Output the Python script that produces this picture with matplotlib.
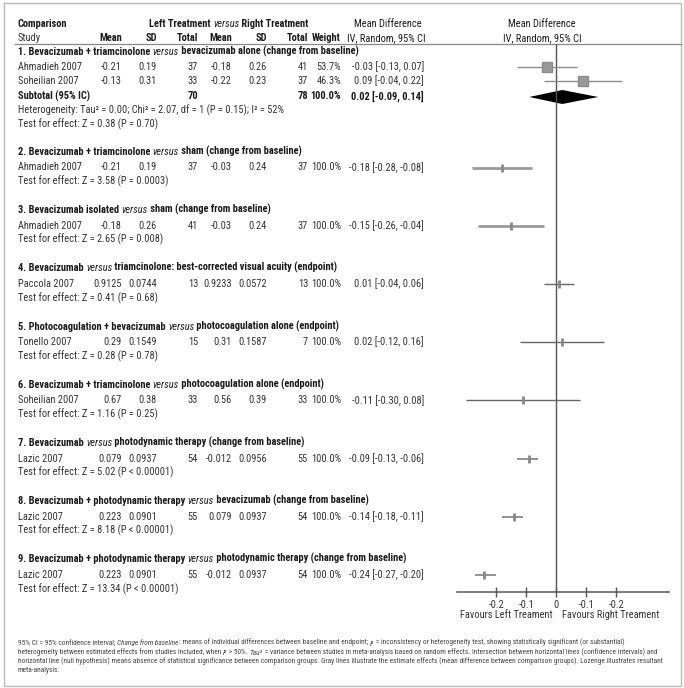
import matplotlib.pyplot as plt
from matplotlib import font_manager
import numpy as np

# pick a narrow sans if one is installed, otherwise Liberation Sans a bit smaller
installed = {f.name for f in font_manager.fontManager.ttflist}
FAMILY, FS, FOOT_FS = 'Liberation Sans', 6.9, 4.4
for cand in ['Liberation Sans Narrow', 'Arial Narrow', 'Roboto Condensed', 'Open Sans Condensed']:
    if cand in installed:
        FAMILY, FS, FOOT_FS = cand, 7.5, 5.3
        break
plt.rcParams['font.family'] = [FAMILY, 'DejaVu Sans']

# ---- data ----
section_titles = [
    ("1. Bevacizumab + triamcinolone ", " bevacizumab alone (change from baseline)"),
    ("2. Bevacizumab + triamcinolone ", " sham (change from baseline)"),
    ("3. Bevacizumab isolated ", " sham (change from baseline)"),
    ("4. Bevacizumab ", " triamcinolone: best-corrected visual acuity (endpoint)"),
    ("5. Photocoagulation + bevacizumab ", " photocoagulation alone (endpoint)"),
    ("6. Bevacizumab + triamcinolone ", " photocoagulation alone (endpoint)"),
    ("7. Bevacizumab ", " photodynamic therapy (change from baseline)"),
    ("8. Bevacizumab + photodynamic therapy ", " bevacizumab (change from baseline)"),
    ("9. Bevacizumab + photodynamic therapy ", " photodynamic therapy (change from baseline)"),
]
test_effect = ["Z = 0.38 (P = 0.70)", "Z = 3.58 (P = 0.0003)", "Z = 2.65 (P = 0.008)",
               "Z = 0.41 (P = 0.68)", "Z = 0.28 (P = 0.78)", "Z = 1.16 (P = 0.25)",
               "Z = 5.02 (P < 0.00001)", "Z = 8.18 (P < 0.00001)", "Z = 13.34 (P < 0.00001)"]

study_section = [0, 0, 1, 2, 3, 4, 5, 6, 7, 8]
study_names = ["Ahmadieh 2007", "Soheilian 2007", "Ahmadieh 2007", "Ahmadieh 2007", "Paccola 2007",
               "Tonello 2007", "Soheilian 2007", "Lazic 2007", "Lazic 2007", "Lazic 2007"]
left_mean = ["-0.21", "-0.13", "-0.21", "-0.18", "0.9125", "0.29", "0.67", "0.079", "0.223", "0.223"]
left_sd = ["0.19", "0.31", "0.19", "0.26", "0.0744", "0.1549", "0.38", "0.0937", "0.0901", "0.0901"]
left_total = [37, 33, 37, 41, 13, 15, 33, 54, 55, 55]
right_mean = ["-0.18", "-0.22", "-0.03", "-0.03", "0.9233", "0.31", "0.56", "-0.012", "0.079", "-0.012"]
right_sd = ["0.26", "0.23", "0.24", "0.24", "0.0572", "0.1587", "0.39", "0.0956", "0.0937", "0.0937"]
right_total = [41, 37, 37, 37, 13, 7, 33, 55, 54, 54]
weights = [53.7, 46.3, 100.0, 100.0, 100.0, 100.0, 100.0, 100.0, 100.0, 100.0]
md = [-0.03, 0.09, -0.18, -0.15, 0.01, 0.02, -0.11, -0.09, -0.14, -0.24]
md_lo = [-0.13, -0.04, -0.28, -0.26, -0.04, -0.12, -0.30, -0.13, -0.18, -0.27]
md_hi = [0.07, 0.22, -0.08, -0.04, 0.06, 0.16, 0.08, -0.06, -0.11, -0.20]

subtotal_md, subtotal_lo, subtotal_hi = 0.02, -0.09, 0.14
subtotal_n = (70, 78)
heterogeneity = "Heterogeneity: Tau² = 0.00; Chi² = 2.07, df = 1 (P = 0.15); I² = 52%"

tick_values = [-0.2, -0.1, 0, 0.1, 0.2]
tick_labels = ["-0.2", "-0.1", "0", "-0.1", "-0.2"]

footnote = [
    [("95% CI = 95% confidence interval; ", {}), ("Change from baseline", {'style': 'italic'}),
     (": means of individual differences between baseline and endpoint; ", {}), ("I²", {'style': 'italic'}),
     (" = inconsistency or heterogeneity test, showing statistically significant (or substantial)", {})],
    [("heterogeneity between estimated effects from studies included, when ", {}), ("I²", {'style': 'italic'}),
     (" > 50%. ", {}), ("Tau²", {'style': 'italic'}),
     (" = variance between studies in meta-analysis based on random effects. Intersection between horizontal lines (confidence intervals) and", {})],
    [("horizontal line (null hypothesis) means absence of statistical significance between comparison groups. Gray lines illustrate the estimate effects (mean difference between comparison groups). Lozenge illustrates resultant", {})],
    [("meta-analysis.", {})],
]

TXT = '#333333'
DARK = '#1a1a1a'


def rich(ax, x, y, parts, **kw):
    # chain text pieces so mixed styles sit on one line
    t = ax.text(x, y, parts[0][0], va='center', **{**kw, **parts[0][1]})
    for s, st in parts[1:]:
        t = ax.annotate(s, xy=(1, 0), xycoords=t, va='bottom', **{**kw, **st})
    return t


fig = plt.figure(figsize=(6.84, 6.88), dpi=100)
ax = fig.add_axes([0, 0, 1, 1])
ax.set_xlim(0, 684)
ax.set_ylim(688, 0)
ax.axis('off')

# frame and header rule
ax.plot([4, 681, 681, 4, 4], [3, 3, 686, 686, 3], color='#bbbbbb', lw=1)
ax.plot([15, 681], [44, 44], color='#888888', lw=0.9)

# header
col_right = [122, 157, 198, 232, 267, 308, 341]
ax.text(18, 24, "Comparison", fontsize=FS, color=DARK, weight='bold', va='center')
rich(ax, 149, 24, [("Left Treatment ", {}), ("versus", {'style': 'italic', 'weight': 'normal'}),
                   (" Right Treatment", {})], fontsize=FS, color=DARK, weight='bold')
ax.text(18, 38, "Study", fontsize=FS, color=TXT, va='center')
for xr, h in zip(col_right, ["Mean", "SD", "Total", "Mean", "SD", "Total", "Weight"]):
    ax.text(xr, 38, h, fontsize=FS, color=DARK, weight='bold', ha='right', va='center')
ax.text(388, 24, "Mean Difference", fontsize=FS, color=DARK, ha='center', va='center')
ax.text(386, 38, "IV, Random, 95% CI", fontsize=FS, color=DARK, ha='center', va='center')
ax.text(542, 24, "Mean Difference", fontsize=FS, color=DARK, ha='center', va='center')
ax.text(542, 38, "IV, Random, 95% CI", fontsize=FS, color=DARK, ha='center', va='center')

# vertical row positions (pixels)
title_y = [52] + [152 + 58.2 * k for k in range(8)]
study_y = [66.5, 81] + [t + 15.5 for t in title_y[1:]]
test_y = [124.5] + [t + 29.5 for t in title_y[1:]]
subtotal_y, het_y = 96, 110

for (a, b), ty in zip(section_titles, title_y):
    rich(ax, 18, ty, [(a, {'weight': 'bold'}), ("versus", {'style': 'italic'}), (b, {'weight': 'bold'})],
         fontsize=FS, color=DARK)
for ty, te in zip(test_y, test_effect):
    ax.text(18, ty, "Test for effect: " + te, fontsize=FS, color=TXT, va='center')

for i, name in enumerate(study_names):
    y = study_y[i]
    ax.text(18, y, name, fontsize=FS, color=TXT, va='center')
    vals = [left_mean[i], left_sd[i], str(left_total[i]), right_mean[i], right_sd[i],
            str(right_total[i]), f"{weights[i]:.1f}%"]
    for xr, v in zip(col_right, vals):
        ax.text(xr, y, v, fontsize=FS, color=TXT, ha='right', va='center')
    ax.text(424, y, f"{md[i]:.2f} [{md_lo[i]:.2f}, {md_hi[i]:.2f}]", fontsize=FS, color=TXT,
            ha='right', va='center')

# subtotal and heterogeneity rows
ax.text(18, subtotal_y, "Subtotal (95% IC)", fontsize=FS, color=DARK, weight='bold', va='center')
ax.text(col_right[2], subtotal_y, str(subtotal_n[0]), fontsize=FS, color=DARK, weight='bold', ha='right', va='center')
ax.text(col_right[5], subtotal_y, str(subtotal_n[1]), fontsize=FS, color=DARK, weight='bold', ha='right', va='center')
ax.text(col_right[6], subtotal_y, "100.0%", fontsize=FS, color=DARK, weight='bold', ha='right', va='center')
ax.text(424, subtotal_y, f"{subtotal_md:.2f} [{subtotal_lo:.2f}, {subtotal_hi:.2f}]", fontsize=FS,
        color=DARK, weight='bold', ha='right', va='center')
ax.text(18, het_y, heterogeneity, fontsize=FS, color=TXT, va='center')

# favours labels
ax.text(553, 615, "Favours Left Treament", fontsize=FS, color=TXT, ha='right', va='center')
ax.text(562, 615, "Favours Right Treament", fontsize=FS, color=TXT, ha='left', va='center')

# footnote
for k, parts in enumerate(footnote):
    rich(ax, 18, 643 + 9 * k, parts, fontsize=FOOT_FS, color='#444444')

# ---- forest plot ----
fx0, fx1, fy0, fy1 = 456.7, 669.3, 44, 592
fa = fig.add_axes([fx0 / 684, (688 - fy1) / 688, (fx1 - fx0) / 684, (fy1 - fy0) / 688])
fa.set_xlim(-0.332, 0.377)
fa.set_ylim(fy1, fy0)
fa.patch.set_alpha(0)
for s in ['top', 'left', 'right']:
    fa.spines[s].set_visible(False)
fa.spines['bottom'].set_color('#555555')
fa.spines['bottom'].set_linewidth(1.1)
fa.set_yticks([])
fa.set_xticks(tick_values)
fa.set_xticklabels(tick_labels, fontsize=FS, color=TXT)
fa.tick_params(axis='x', direction='inout', length=7, width=1, color='#555555', pad=2)
fa.axvline(0, color='#555555', lw=1)

line_color = ['#8c8c8c', '#8c8c8c', '#9a9a9a', '#9a9a9a', '#666666', '#666666', '#666666', '#8a8a8a', '#8a8a8a', '#8a8a8a']
line_width = [1.0, 1.0, 2.0, 2.0, 1.0, 1.0, 1.0, 1.3, 1.3, 1.3]
for i in range(len(md)):
    y = study_y[i]
    fa.plot([md_lo[i], md_hi[i]], [y, y], color=line_color[i], lw=line_width[i], solid_capstyle='butt')
    if study_section[i] == 0:
        # square sized by study weight
        fa.plot(md[i], y, marker='s', markersize=5.5 + 1.6 * weights[i] / 53.7,
                color='#999999', markeredgecolor='#8a8a8a')
    else:
        fa.plot(md[i], y, marker='|', markersize=6, markeredgewidth=2, color='#888888')

# pooled estimate lozenge
fa.fill([subtotal_lo, subtotal_md, subtotal_hi, subtotal_md],
        [subtotal_y + 1, subtotal_y - 6, subtotal_y + 1, subtotal_y + 8], color='black', lw=0)

fig.savefig('out.png', dpi=100)
